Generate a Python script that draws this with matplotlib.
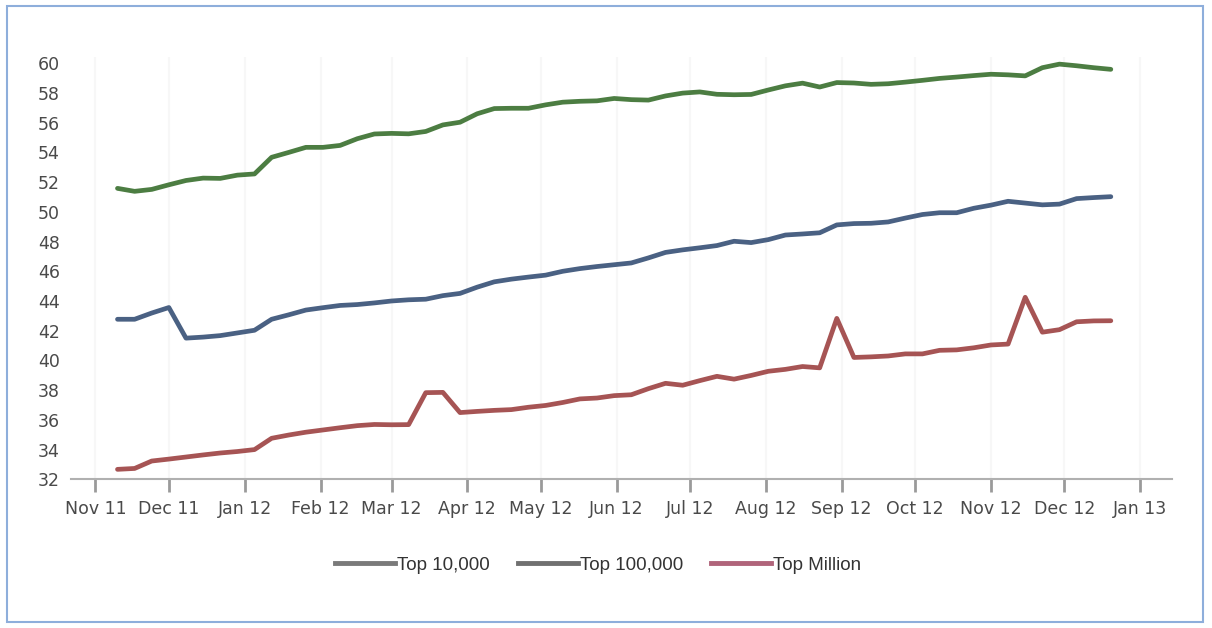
import pandas as pd
import matplotlib
matplotlib.use("Agg")
import matplotlib.pyplot as plt
import matplotlib.dates as mdates
from matplotlib.lines import Line2D
from matplotlib.patches import Rectangle

# weekly samples
weeks = pd.date_range("2011-11-10", periods=59, freq="7D")

top_10k = [51.58, 51.38, 51.51, 51.82, 52.11, 52.27, 52.25, 52.47, 52.55, 53.67,
           54.00, 54.34, 54.34, 54.47, 54.92, 55.24, 55.28, 55.25, 55.41, 55.85,
           56.03, 56.60, 56.95, 56.97, 56.97, 57.20, 57.38, 57.44, 57.47, 57.63,
           57.55, 57.52, 57.80, 57.99, 58.07, 57.91, 57.88, 57.90, 58.20, 58.48,
           58.66, 58.40, 58.70, 58.67, 58.58, 58.62, 58.73, 58.85, 58.98, 59.07,
           59.17, 59.26, 59.22, 59.15, 59.70, 59.94, 59.83, 59.70, 59.59]

top_100k = [42.77, 42.77, 43.19, 43.56, 41.50, 41.57, 41.67, 41.85, 42.03, 42.77,
            43.07, 43.39, 43.55, 43.70, 43.76, 43.87, 44.00, 44.08, 44.12, 44.36,
            44.51, 44.93, 45.29, 45.47, 45.61, 45.74, 46.00, 46.18, 46.32, 46.44,
            46.56, 46.90, 47.27, 47.44, 47.58, 47.73, 48.02, 47.93, 48.13, 48.44,
            48.51, 48.59, 49.12, 49.21, 49.23, 49.32, 49.58, 49.82, 49.94, 49.94,
            50.24, 50.45, 50.71, 50.59, 50.47, 50.52, 50.89, 50.96, 51.02]

top_million = [32.67, 32.73, 33.23, 33.36, 33.50, 33.64, 33.77, 33.87, 34.00, 34.76,
               34.98, 35.17, 35.32, 35.47, 35.61, 35.69, 35.67, 35.68, 37.83, 37.85,
               36.49, 36.57, 36.64, 36.69, 36.85, 36.97, 37.17, 37.41, 37.47, 37.63,
               37.69, 38.10, 38.46, 38.33, 38.64, 38.93, 38.74, 38.99, 39.27, 39.40,
               39.59, 39.50, 42.83, 40.20, 40.24, 40.30, 40.44, 40.44, 40.68, 40.71,
               40.85, 41.04, 41.10, 44.25, 41.90, 42.07, 42.60, 42.66, 42.67]

series_names = ["Top 10,000", "Top 100,000", "Top Million"]
line_colors = ["#4c7d42", "#4a6183", "#a65454"]
legend_colors = ["#7a7a7a", "#707070", "#b0647a"]

month_ticks = pd.date_range("2011-11-01", "2013-01-01", freq="MS")
y_ticks = list(range(32, 61, 2))

fig = plt.figure(figsize=(12.12, 6.28), dpi=100)
fig.patches.append(Rectangle((7 / 1212, 6 / 628), 1196 / 1212, 616 / 628,
                             transform=fig.transFigure, fill=False,
                             edgecolor="#8eaedb", linewidth=1.5))

ax = fig.add_axes([71 / 1212, 1 - 479.3 / 628, 1101 / 1212, 422 / 628])

for vals, color in zip([top_10k, top_100k, top_million], line_colors):
    ax.plot(weeks, vals, color=color, linewidth=3.4, solid_joinstyle="round",
            solid_capstyle="round")

ax.set_ylim(32, 60.4)
ax.set_xlim(pd.Timestamp("2011-10-22"), pd.Timestamp("2013-01-14"))
ax.set_yticks(y_ticks)
ax.set_xticks(month_ticks)
ax.xaxis.set_major_formatter(mdates.DateFormatter("%b %y"))

for s in ["top", "right", "left"]:
    ax.spines[s].set_visible(False)
ax.spines["bottom"].set_color("#b0b0b0")
ax.spines["bottom"].set_linewidth(1.5)

ax.grid(axis="x", color="#f7f7f7", linewidth=1.5)
ax.tick_params(axis="y", length=0, pad=8, labelsize=12.5, labelcolor="#4a4a4a")
ax.tick_params(axis="x", length=9, width=2, color="#9a9a9a", pad=6,
               labelsize=12.5, labelcolor="#4a4a4a")

handles = [Line2D([], [], color=c, linewidth=3.5) for c in legend_colors]
fig.legend(handles, series_names, loc="center", bbox_to_anchor=(598 / 1212, 1 - 565 / 628),
           ncol=3, frameon=False, handlelength=3.2, handletextpad=0.1,
           columnspacing=1.5, prop={"family": "Liberation Sans", "size": 13.5},
           labelcolor="#333333")

fig.savefig("out.png", dpi=100)
